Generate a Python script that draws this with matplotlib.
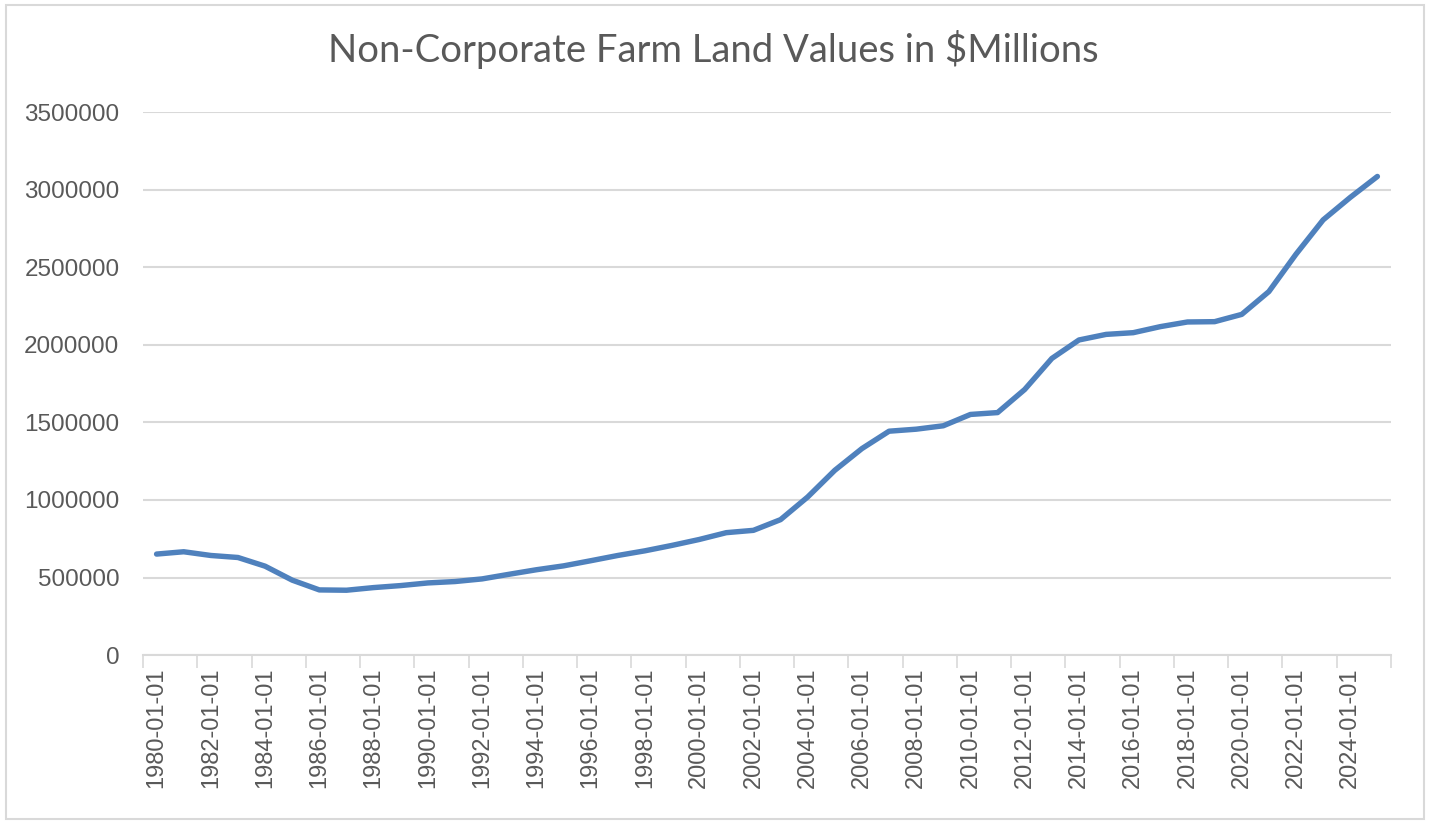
import matplotlib
matplotlib.use("Agg")
import matplotlib.pyplot as plt
from matplotlib.patches import Rectangle

# Non-corporate farm land values, $Millions (1980-2025)
years = list(range(1980, 2026))
values = [
    651000, 666000, 642000, 629000, 573000, 483000, 420000, 418000, 435000, 448000,
    465000, 474000, 491000, 521000, 550000, 575000, 608000, 642000, 672000, 707000,
    745000, 789000, 804000, 873000, 1019000, 1191000, 1331000, 1443000, 1456000, 1478000,
    1551000, 1563000, 1712000, 1912000, 2031000, 2067000, 2078000, 2117000, 2147000, 2149000,
    2196000, 2343000, 2584000, 2805000, 2950000, 3085000,
]
labels = [f"{y}-01-01" for y in years]
y_ticks = [0, 500000, 1000000, 1500000, 2000000, 2500000, 3000000, 3500000]

TEXT = "#595959"
GRID = "#D9D9D9"
LINE = "#4F81BD"

plt.rcParams["font.family"] = ["Liberation Sans", "DejaVu Sans"]

fig = plt.figure(figsize=(14.3, 8.24), dpi=100)
ax = fig.add_axes([0.1, 0.205, 0.8727, 0.659])

x = list(range(len(years)))
ax.plot(x, values, color=LINE, linewidth=3.9, solid_capstyle="round",
        solid_joinstyle="round", zorder=3)

ax.set_xlim(-0.5, len(years) - 0.5)
ax.set_ylim(0, 3500000)
ax.set_yticks(y_ticks)
ax.set_yticklabels([str(v) for v in y_ticks])

# tick marks sit between categories, labels on every second category
ax.set_xticks([i - 0.5 for i in range(0, len(years) + 1, 2)])
ax.set_xticklabels([])
ax.set_xticks(x[::2], minor=True)
ax.set_xticklabels(labels[::2], minor=True, rotation=90)
ax.tick_params(axis="x", which="major", length=9, width=1.2, color=GRID, direction="out")
ax.tick_params(axis="x", which="minor", length=0, pad=9, labelsize=17, labelcolor=TEXT)
ax.tick_params(axis="y", length=0, pad=17, labelsize=17.5, labelcolor=TEXT)

ax.grid(axis="y", color=GRID, linewidth=1.5)
ax.set_axisbelow(True)
for side in ["top", "right", "left"]:
    ax.spines[side].set_visible(False)
ax.spines["bottom"].set_color(GRID)
ax.spines["bottom"].set_linewidth(1.5)

fig.text(0.4985, 0.94, "Non-Corporate Farm Land Values in $Millions",
         ha="center", va="center", fontsize=27.5, color=TEXT, family="Lato")

fig.patches.append(Rectangle((0.004, 0.006), 0.992, 0.988, transform=fig.transFigure,
                             fill=False, edgecolor=GRID, linewidth=1.5))

fig.savefig("out.png", dpi=100)
